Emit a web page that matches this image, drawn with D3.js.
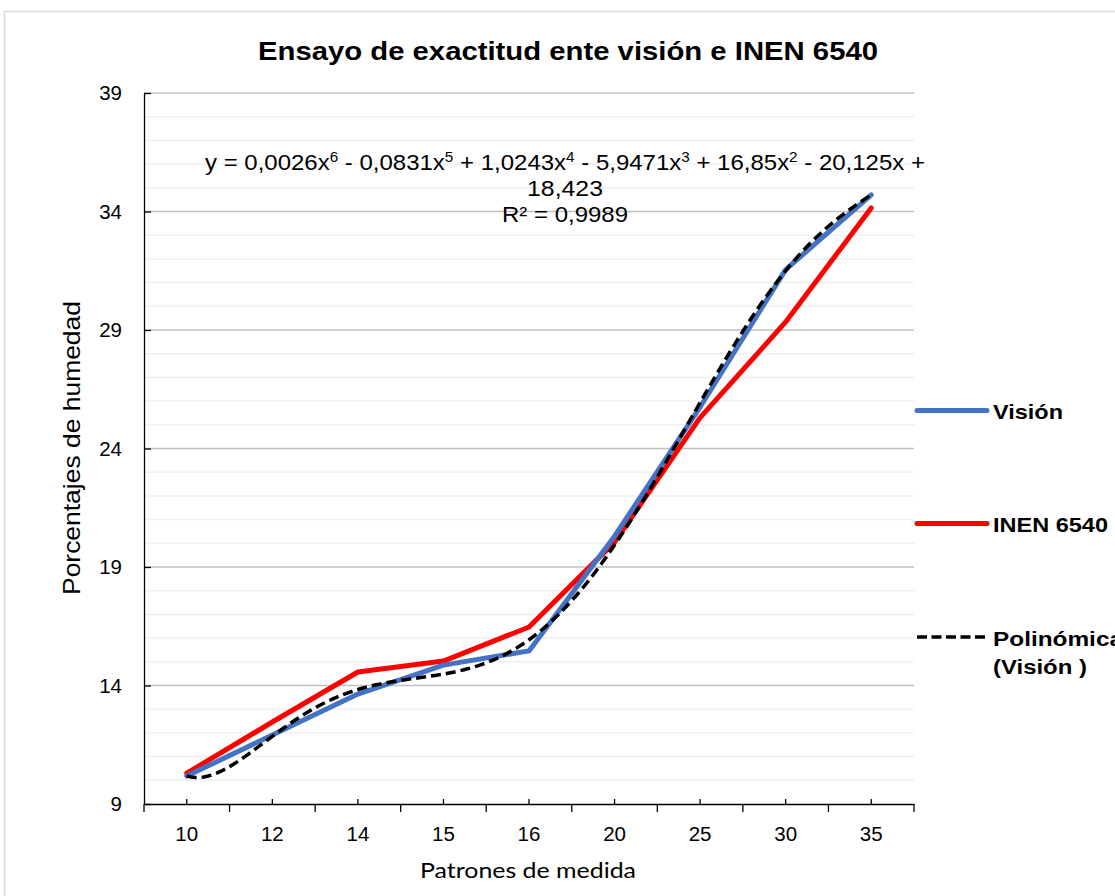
<!DOCTYPE html>
<html>
<head>
<meta charset="utf-8">
<script src="https://cdn.jsdelivr.net/npm/d3@7"></script>
<style>
  body { margin: 0; background: #fff; }
  svg { display: block; }
</style>
</head>
<body>
<div id="chart"></div>
<script>
const categories = ["10", "12", "14", "15", "16", "20", "25", "30", "35"];
const vision = [10.18, 11.91, 13.64, 14.86, 15.46, 20.3, 25.75, 31.55, 34.7];
const inen = [10.3, 12.46, 14.57, 15.03, 16.47, 20.05, 25.3, 29.34, 34.15];
const yTicks = [9, 14, 19, 24, 29, 34, 39];
// equation parts: [text, superscript]
const equationParts = [
  ["y = 0,0026x", "6"], [" - 0,0831x", "5"], [" + 1,0243x", "4"],
  [" - 5,9471x", "3"], [" + 16,85x", "2"], [" - 20,125x +", ""]
];
const equationRest = ["18,423", "R² = 0,9989"];

const W = 1115, H = 896;
const margin = {top: 93, right: 201, bottom: 92, left: 144};
const width = W - margin.left - margin.right,
      height = H - margin.top - margin.bottom;
const ARIAL = "Liberation Sans, Arial, sans-serif";

const svg = d3.select("#chart").append("svg")
    .attr("width", W)
    .attr("height", H);

// frame
svg.append("rect")
    .attr("x", 4.5).attr("y", 11.5)
    .attr("width", W + 20).attr("height", H + 20)
    .attr("fill", "none")
    .attr("stroke", "#d9d9d9")
    .attr("stroke-width", 1.5);

const g = svg.append("g")
    .attr("transform", `translate(${margin.left},${margin.top})`);

const x = d3.scaleBand().domain(categories).range([0, width]).padding(0);
const y = d3.scaleLinear().domain([9, 39]).range([height, 0]);
const cx = d => x(d) + x.bandwidth() / 2;

// gridlines
const minor = d3.range(10, 39).filter(v => (v - 9) % 5 !== 0);
g.selectAll(".minor").data(minor).enter().append("line")
    .attr("x1", 0).attr("x2", width)
    .attr("y1", d => y(d)).attr("y2", d => y(d))
    .attr("stroke", "#f0f0f0").attr("stroke-width", 1.5);
g.selectAll(".major").data(yTicks.slice(1)).enter().append("line")
    .attr("x1", 0).attr("x2", width)
    .attr("y1", d => y(d)).attr("y2", d => y(d))
    .attr("stroke", "#c0c0c0").attr("stroke-width", 1.5);

// axes
const yAxis = d3.axisLeft(y).tickValues(yTicks)
    .tickSizeInner(-7).tickSizeOuter(0).tickPadding(22);
const drawY = g.append("g").call(yAxis);
drawY.select(".domain").attr("stroke", "#000").attr("stroke-width", 1.3);
drawY.selectAll("line").attr("stroke", "#000").attr("stroke-width", 1.3);
drawY.selectAll("text")
    .attr("font-family", ARIAL)
    .attr("font-size", 20.5).attr("fill", "#000");

const xAxis = d3.axisBottom(x)
    .tickSizeInner(-5).tickSizeOuter(0).tickPadding(22);
const drawX = g.append("g")
    .attr("transform", `translate(0,${height})`)
    .call(xAxis);
drawX.select(".domain").attr("stroke", "#000").attr("stroke-width", 1.3);
drawX.selectAll("line").attr("stroke", "#000").attr("stroke-width", 1.3);
drawX.selectAll("text")
    .attr("font-family", ARIAL)
    .attr("font-size", 20.5).attr("fill", "#000");
drawX.selectAll(".edge").data(d3.range(categories.length + 1)).enter()
    .append("line")
    .attr("x1", i => i * x.step()).attr("x2", i => i * x.step())
    .attr("y1", 0).attr("y2", 8)
    .attr("stroke", "#000").attr("stroke-width", 1.3);

// polynomial trendline (order 6) fitted on Visión
function polyFit(xs, ys, order) {
  const n = order + 1;
  const A = [];
  for (let r = 0; r < n; r++) {
    A.push([]);
    for (let c = 0; c < n; c++) A[r].push(d3.sum(xs, xv => Math.pow(xv, r + c)));
    A[r].push(d3.sum(xs, (xv, i) => Math.pow(xv, r) * ys[i]));
  }
  for (let i = 0; i < n; i++) {
    let p = i;
    for (let k = i + 1; k < n; k++) if (Math.abs(A[k][i]) > Math.abs(A[p][i])) p = k;
    [A[i], A[p]] = [A[p], A[i]];
    for (let k = i + 1; k < n; k++) {
      const f = A[k][i] / A[i][i];
      for (let c = i; c <= n; c++) A[k][c] -= f * A[i][c];
    }
  }
  const coef = new Array(n).fill(0);
  for (let i = n - 1; i >= 0; i--) {
    let s = A[i][n];
    for (let c = i + 1; c < n; c++) s -= A[i][c] * coef[c];
    coef[i] = s / A[i][i];
  }
  return coef;
}
const idx = categories.map((d, i) => i + 1);
const coef = polyFit(idx, vision, 6);
const evalPoly = t => coef.reduce((s, c, k) => s + c * Math.pow(t, k), 0);
const xIdx = d3.scaleLinear().domain([1, categories.length])
    .range([cx(categories[0]), cx(categories[categories.length - 1])]);
const trend = d3.range(1, categories.length + 0.001, 0.05);

const line = d3.line()
    .x((d, i) => cx(categories[i]))
    .y(d => y(d));

g.append("path").datum(inen)
    .attr("d", line)
    .attr("fill", "none").attr("stroke", "#ff0000")
    .attr("stroke-width", 5).attr("stroke-linejoin", "round").attr("stroke-linecap", "round");
g.append("path").datum(vision)
    .attr("d", line)
    .attr("fill", "none").attr("stroke", "#4472c4")
    .attr("stroke-width", 5).attr("stroke-linejoin", "round").attr("stroke-linecap", "round");
g.append("path").datum(trend)
    .attr("d", d3.line().x(t => xIdx(t)).y(t => y(evalPoly(t))))
    .attr("fill", "none").attr("stroke", "#000")
    .attr("stroke-width", 3.5).attr("stroke-dasharray", "10,5");

// text helper: fixed width via textLength
function label(sel, opts) {
  return sel.append("text")
      .attr("x", opts.x).attr("y", opts.y)
      .attr("text-anchor", opts.anchor || "start")
      .attr("font-family", opts.family || ARIAL)
      .attr("font-weight", opts.bold ? "bold" : "normal")
      .attr("font-size", opts.size)
      .attr("textLength", opts.len)
      .attr("lengthAdjust", "spacingAndGlyphs")
      .attr("transform", opts.transform || null)
      .text(opts.text);
}

// title
label(svg, {x: 568, y: 60, anchor: "middle", bold: true, size: 26.5, len: 620,
  text: "Ensayo de exactitud ente visión e INEN 6540"});

// equation
const eq = svg.append("text")
    .attr("x", 565).attr("y", 170)
    .attr("text-anchor", "middle")
    .attr("font-family", ARIAL)
    .attr("font-size", 22)
    .attr("textLength", 720)
    .attr("lengthAdjust", "spacingAndGlyphs");
let raised = false;
equationParts.forEach(p => {
  eq.append("tspan").attr("dy", raised ? 8 : 0).text(p[0]);
  raised = false;
  if (p[1]) {
    eq.append("tspan").attr("font-size", 14).attr("dy", -8).text(p[1]);
    raised = true;
  }
});
label(svg, {x: 565, y: 196, anchor: "middle", size: 22, len: 76, text: equationRest[0]});
label(svg, {x: 565, y: 222, anchor: "middle", size: 22, len: 126, text: equationRest[1]});

// axis titles
label(svg, {x: 0, y: 0, anchor: "middle", size: 24, len: 294,
  transform: "translate(80,448) rotate(-90)", text: "Porcentajes de humedad"});
label(svg, {x: 528, y: 878, anchor: "middle", size: 22, len: 216,
  family: "Lato, 'Open Sans', sans-serif", text: "Patrones de medida"});

// legend
const legend = [
  {name: ["Visión"], len: [70], color: "#4472c4", dash: null, y: 410.5},
  {name: ["INEN 6540"], len: [115], color: "#ff0000", dash: null, y: 523.5},
  {name: ["Polinómica", "(Visión )"], len: [130, 94], color: "#000", dash: "10,4.5", y: 637}
];
legend.forEach(d => {
  svg.append("line")
      .attr("x1", 917).attr("x2", d.dash ? 988 : 987)
      .attr("y1", d.y).attr("y2", d.y)
      .attr("stroke", d.color)
      .attr("stroke-width", d.dash ? 3.5 : 5)
      .attr("stroke-dasharray", d.dash)
      .attr("stroke-linecap", d.dash ? "butt" : "round");
  d.name.forEach((t, i) => {
    label(svg, {x: 993, y: d.y + 8.5 + i * 28, bold: true, size: 20, len: d.len[i], text: t});
  });
});
</script>
</body>
</html>
